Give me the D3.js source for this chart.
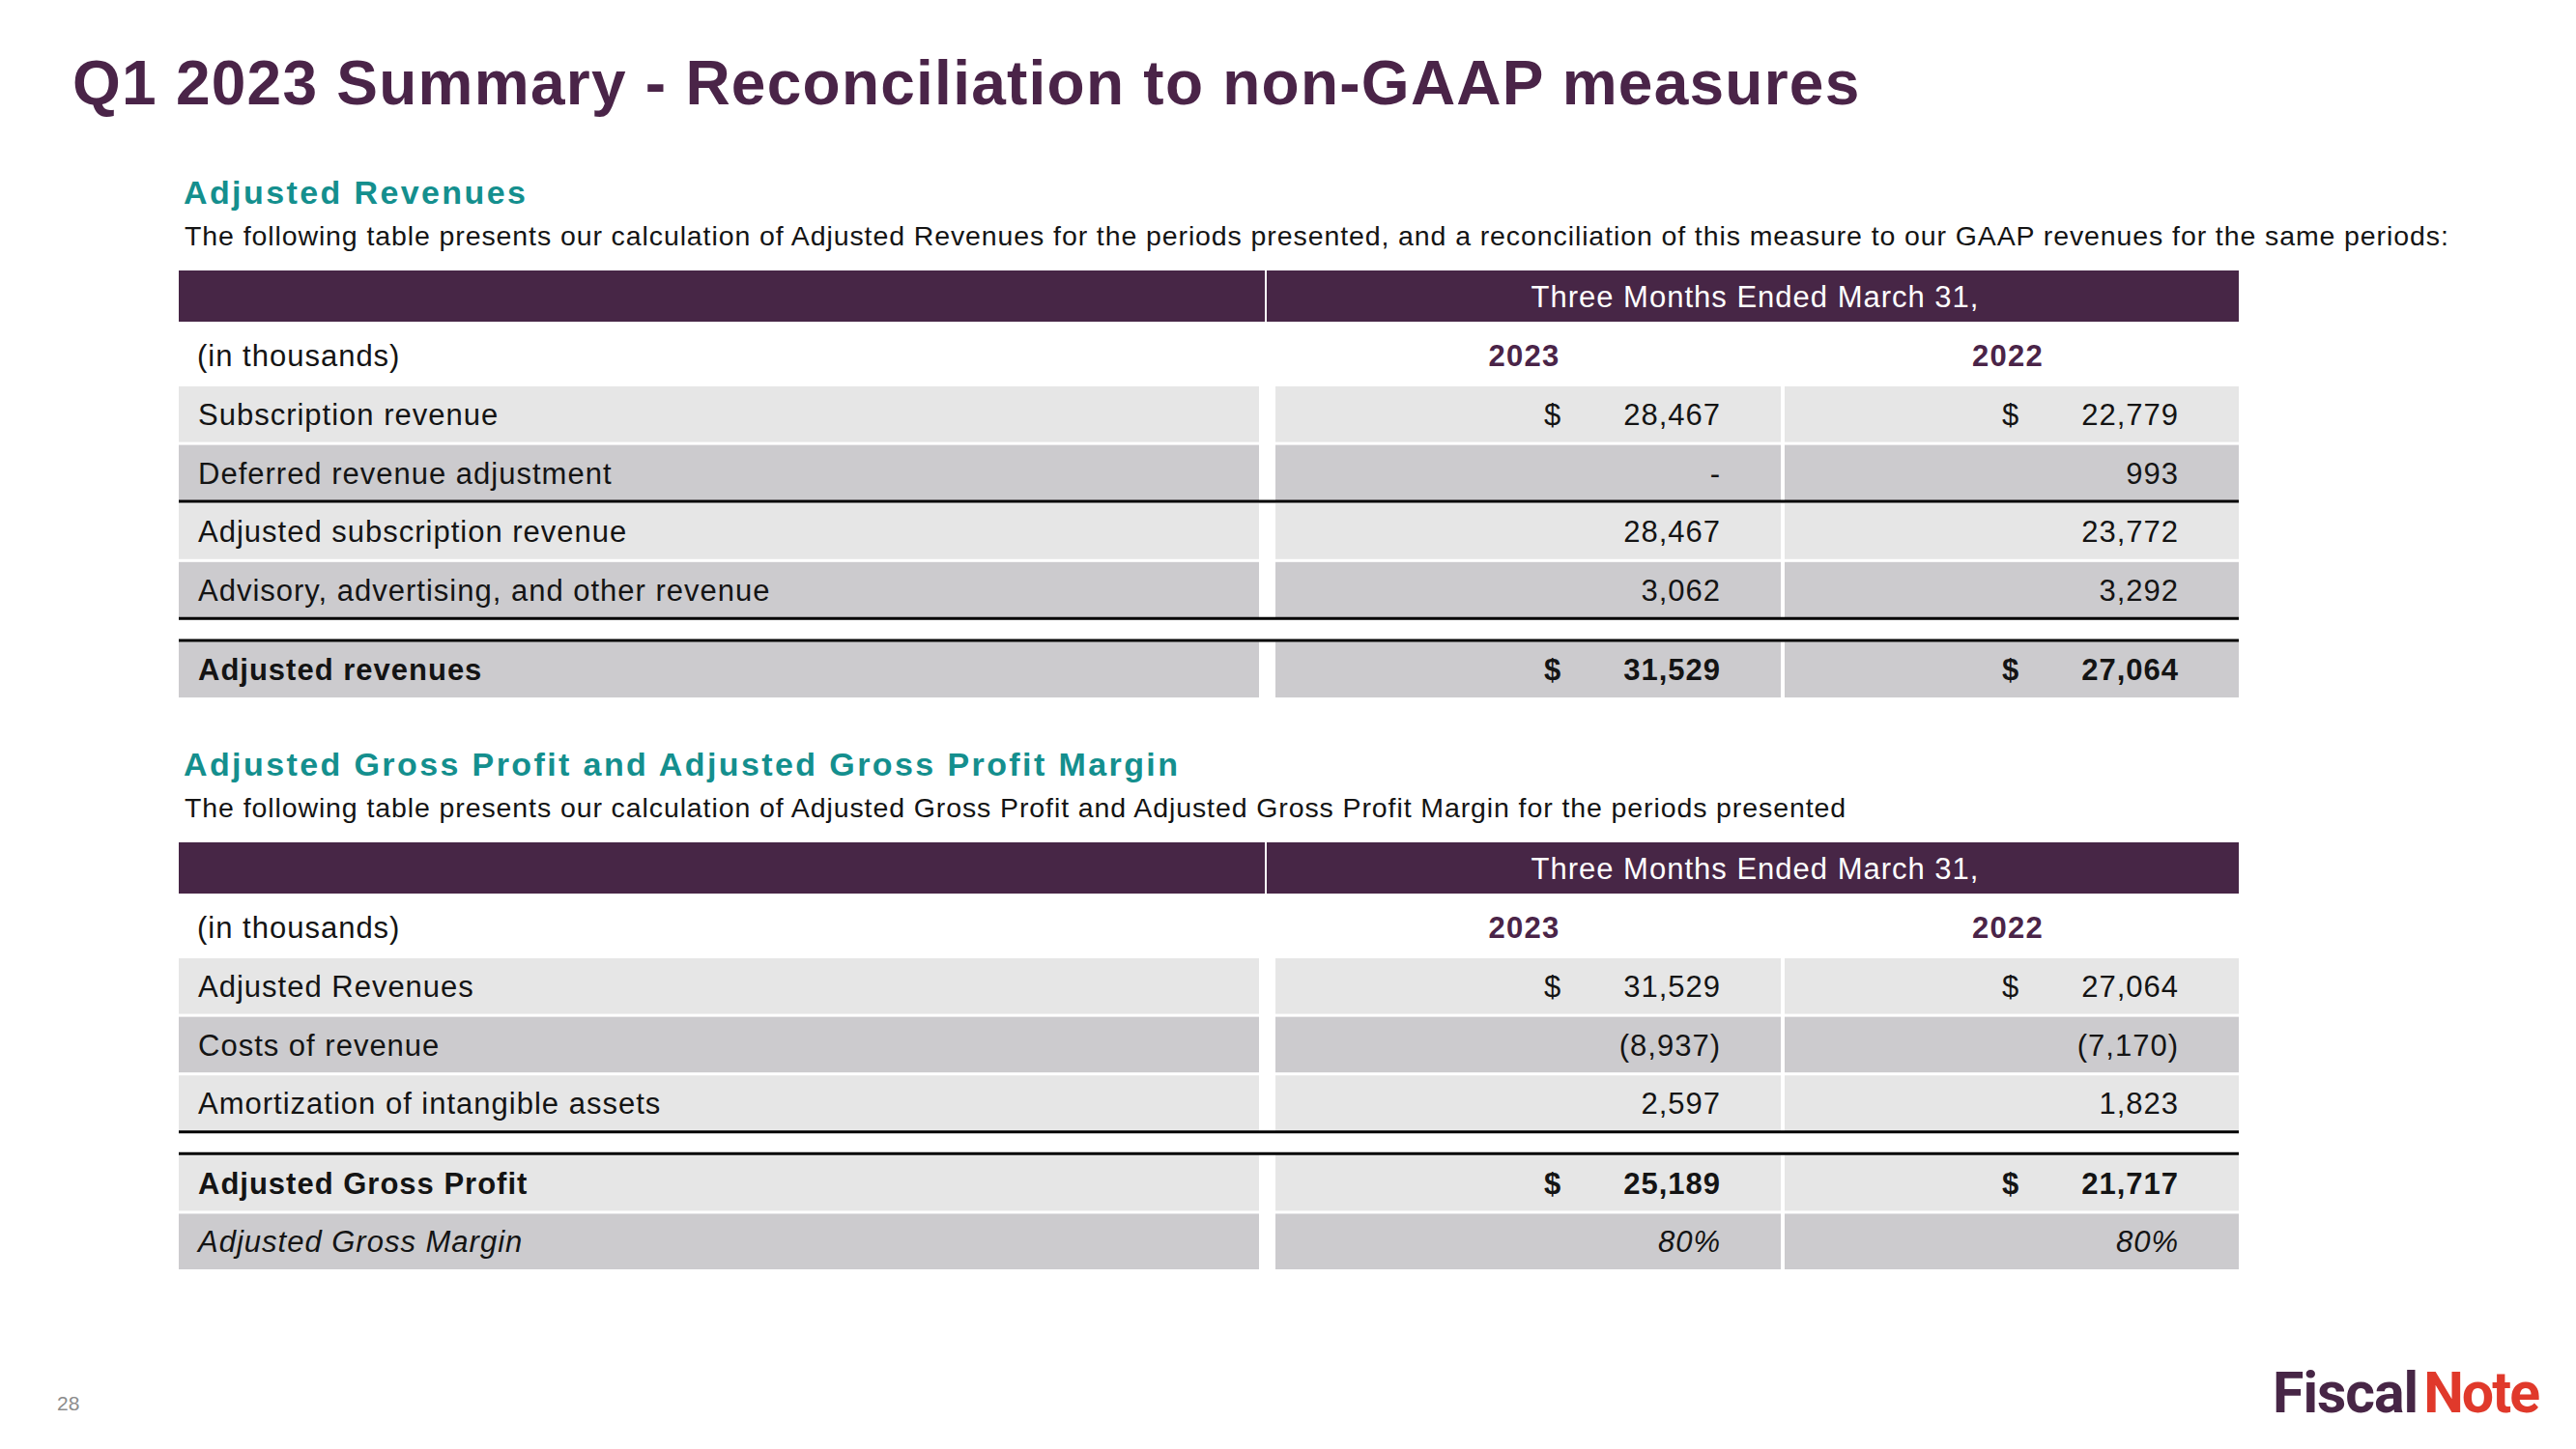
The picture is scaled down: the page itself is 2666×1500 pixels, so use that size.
<!DOCTYPE html>
<html>
<head>
<meta charset="utf-8">
<script src="https://cdn.jsdelivr.net/npm/d3@7"></script>
<style>
  html, body { margin: 0; padding: 0; background: #ffffff; }
  svg { display: block; }
</style>
</head>
<body>
<div id="chart"></div>
<script>
// ---------------- DATA ----------------
const title = "Q1 2023 Summary - Reconciliation to non-GAAP measures";
const periodHeader = "Three Months Ended March 31,";
const years = ["2023", "2022"];
const unitLabel = "(in thousands)";

const revHeading = "Adjusted Revenues";
const revNote = "The following table presents our calculation of Adjusted Revenues for the periods presented, and a reconciliation of this measure to our GAAP revenues for the same periods:";
const revCategories = [
  "Subscription revenue",
  "Deferred revenue adjustment",
  "Adjusted subscription revenue",
  "Advisory, advertising, and other revenue",
  "Adjusted revenues"
];
const rev2023 = [28467, 0, 28467, 3062, 31529];
const rev2022 = [22779, 993, 23772, 3292, 27064];
const revKinds = ["usd", "num", "num", "num", "usd"];
const revEmphasis = ["", "", "", "", "bold"];

const gpHeading = "Adjusted Gross Profit and Adjusted Gross Profit Margin";
const gpNote = "The following table presents our calculation of Adjusted Gross Profit and Adjusted Gross Profit Margin for the periods presented";
const gpCategories = [
  "Adjusted Revenues",
  "Costs of revenue",
  "Amortization of intangible assets",
  "Adjusted Gross Profit",
  "Adjusted Gross Margin"
];
const gp2023 = [31529, -8937, 2597, 25189, 0.80];
const gp2022 = [27064, -7170, 1823, 21717, 0.80];
const gpKinds = ["usd", "num", "num", "usd", "pct"];
const gpEmphasis = ["", "", "", "bold", "italic"];

const pageNumber = "28";
const logoParts = ["Fiscal", "Note"];

// ---------------- STYLE / LAYOUT ----------------
const W = 2666, H = 1500;
const FONT = "'Liberation Sans', Arial, Helvetica, sans-serif";
const C = {
  title: "#4a2448", teal: "#148f8e", bar: "#472646", year: "#4a2448",
  text: "#141414", light: "#e6e6e6", dark: "#cccbce", rule: "#000000",
  page: "#8c8c8c", logoA: "#472646", logoB: "#e0392b"
};
const revShade = [0, 1, 0, 1, 1];
const gpShade = [0, 1, 0, 0, 1];
const revRules = [1, 3];
const gpRules = [2];

const sections = [
  { offset: 0, heading: revHeading, note: revNote, cats: revCategories,
    v: {"2023": rev2023, "2022": rev2022}, kinds: revKinds, emph: revEmphasis,
    shade: revShade, rules: revRules, totalIndex: 4 },
  { offset: 592, heading: gpHeading, note: gpNote, cats: gpCategories,
    v: {"2023": gp2023, "2022": gp2022}, kinds: gpKinds, emph: gpEmphasis,
    shade: gpShade, rules: gpRules, totalIndex: 3 }
];

const tableLeft = 185, tableRight = 2317;
const labelCellRight = 1303, barSplit = 1309;
const colX = d3.scaleOrdinal().domain(years).range([[1320, 1843], [1847, 2317]]);
const numPadRight = 62, dollarGap = 183;
const rowPitch = 60, rowH = 57, totalGap = 22;

const fmtInt = d3.format(",");
const fmtPct = d3.format(".0%");
function fmtValue(v, kind) {
  if (kind === "pct") return fmtPct(v);
  if (v === 0) return "-";
  if (v < 0) return "(" + fmtInt(-v) + ")";
  return fmtInt(v);
}

const svg = d3.select("#chart").append("svg")
  .attr("width", W).attr("height", H)
  .style("font-family", FONT);
svg.append("rect").attr("width", W).attr("height", H).attr("fill", "#fff");

// Title
svg.append("text")
  .attr("x", 75).attr("y", 108)
  .attr("font-size", 64).attr("font-weight", 700)
  .attr("letter-spacing", 1.25)
  .attr("fill", C.title)
  .text(title);

sections.forEach(sec => {
  const g = svg.append("g").attr("transform", `translate(0,${sec.offset})`);

  g.append("text").attr("x", 190).attr("y", 211)
    .attr("font-size", 34).attr("font-weight", 700).attr("letter-spacing", 2.4)
    .attr("fill", C.teal).text(sec.heading);

  g.append("text").attr("x", 191).attr("y", 254)
    .attr("font-size", 28.5).attr("letter-spacing", 0.9)
    .attr("fill", C.text).text(sec.note);

  // header bar
  g.append("rect").attr("x", tableLeft).attr("y", 280)
    .attr("width", barSplit - tableLeft).attr("height", 53).attr("fill", C.bar);
  g.append("rect").attr("x", barSplit + 2).attr("y", 280)
    .attr("width", tableRight - barSplit - 2).attr("height", 53).attr("fill", C.bar);
  const valMid = (colX(years[0])[0] + colX(years[1])[1]) / 2 - 2;
  g.append("text").attr("x", valMid).attr("y", 318)
    .attr("text-anchor", "middle").attr("font-size", 31).attr("letter-spacing", 1)
    .attr("fill", "#ffffff").text(periodHeader);

  // unit label and years
  g.append("text").attr("x", 204).attr("y", 379)
    .attr("font-size", 31).attr("letter-spacing", 1)
    .attr("fill", C.text).text(unitLabel);
  g.selectAll("text.year").data(years).enter().append("text")
    .attr("class", "year")
    .attr("x", d => (colX(d)[0] + colX(d)[1]) / 2 - 4)
    .attr("y", 379).attr("text-anchor", "middle")
    .attr("font-size", 31).attr("font-weight", 700).attr("letter-spacing", 1.2)
    .attr("fill", C.year).text(d => d);

  // rows
  const idx = d3.range(sec.cats.length);
  const yBand = d3.scaleBand().domain(idx)
    .range([400, 400 + rowPitch * idx.length]).paddingInner((rowPitch - rowH) / rowPitch).paddingOuter(0);
  const rowTop = i => yBand(i) + (i >= sec.totalIndex ? totalGap : 0);

  const rows = g.selectAll("g.row").data(idx).enter().append("g").attr("class", "row");
  rows.append("rect").attr("x", tableLeft).attr("y", rowTop)
    .attr("width", labelCellRight - tableLeft).attr("height", yBand.bandwidth())
    .attr("fill", i => sec.shade[i] ? C.dark : C.light);
  years.forEach(yr => {
    rows.append("rect").attr("x", colX(yr)[0]).attr("y", rowTop)
      .attr("width", colX(yr)[1] - colX(yr)[0]).attr("height", yBand.bandwidth())
      .attr("fill", i => sec.shade[i] ? C.dark : C.light);
  });

  const styleText = sel => sel
    .attr("font-size", 31).attr("letter-spacing", 1)
    .attr("font-weight", i => sec.emph[i] === "bold" ? 700 : 400)
    .attr("font-style", i => sec.emph[i] === "italic" ? "italic" : "normal")
    .attr("fill", C.text);

  rows.append("text").attr("x", 205).attr("y", i => rowTop(i) + 40)
    .call(styleText).text(i => sec.cats[i]);

  years.forEach(yr => {
    const right = colX(yr)[1] - numPadRight;
    rows.append("text").attr("x", right).attr("y", i => rowTop(i) + 40)
      .attr("text-anchor", "end").call(styleText)
      .text(i => fmtValue(sec.v[yr][i], sec.kinds[i]));
    rows.filter(i => sec.kinds[i] === "usd").append("text")
      .attr("x", right - dollarGap).attr("y", i => rowTop(i) + 40)
      .call(styleText).text("$");
  });

  // rules
  const ruleYs = sec.rules.map(i => rowTop(i) + rowH + 1.5)
    .concat([rowTop(sec.totalIndex) - 1.5]);
  g.selectAll("line.rule").data(ruleYs).enter().append("line")
    .attr("class", "rule")
    .attr("x1", tableLeft).attr("x2", tableRight)
    .attr("y1", d => d).attr("y2", d => d)
    .attr("stroke", C.rule).attr("stroke-width", 3);
});

// page number
svg.append("text").attr("x", 59).attr("y", 1460)
  .attr("font-size", 21).attr("fill", C.page).text(pageNumber);

// logo
const logo = svg.append("text").attr("x", 2352).attr("y", 1462)
  .attr("font-family", "Roboto, 'Open Sans', sans-serif")
  .attr("font-size", 59).attr("font-weight", 700);
logo.append("tspan").attr("fill", C.logoA).attr("letter-spacing", -1).text(logoParts[0]);
logo.append("tspan").attr("fill", C.logoB).attr("dx", 6).attr("letter-spacing", -2).text(logoParts[1]);
</script>
</body>
</html>
